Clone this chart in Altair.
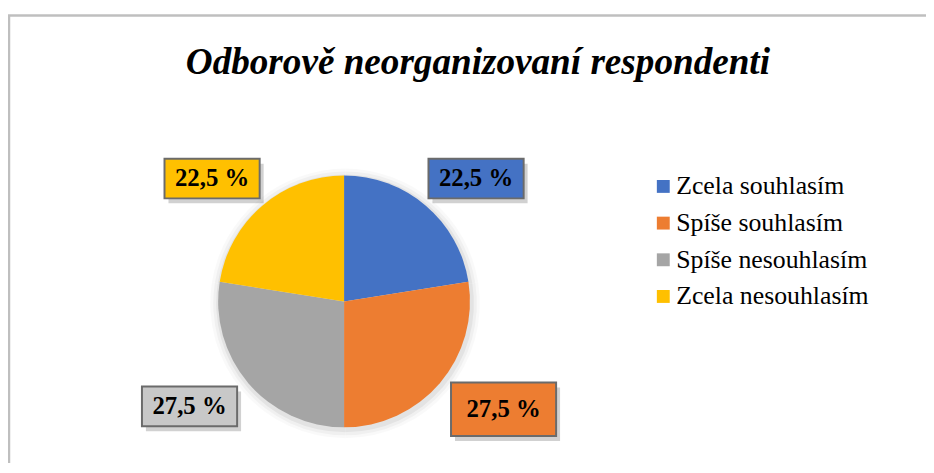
import altair as alt
import pandas as pd

title_text = "Odborově neorganizovaní respondenti"
categories = ["Zcela souhlasím", "Spíše souhlasím", "Spíše nesouhlasím", "Zcela nesouhlasím"]
values = [22.5, 27.5, 27.5, 22.5]
labels = ["22,5 %", "27,5 %", "27,5 %", "22,5 %"]
slice_colors = ["#4472C4", "#ED7D31", "#A5A5A5", "#FFC000"]
box_colors = ["#4472C4", "#ED7D31", "#C8C8C8", "#FFC000"]

df = pd.DataFrame({
    "cat": categories,
    "val": values,
    "lab": labels,
    "idx": list(range(len(categories))),
    "box": box_colors,
})

CX, CY, R = 339, 294, 127
RX, RY = 205, 163
FONT = "Liberation Serif"

base = alt.Chart(df)

color = alt.Color("cat:N", scale=alt.Scale(domain=categories, range=slice_colors),
                  sort=categories,
                  legend=alt.Legend(orient="none", legendX=648, legendY=165, title=None,
                                    symbolType="square", symbolSize=169, symbolStrokeWidth=0,
                                    labelFont=FONT, labelFontSize=26, labelColor="#000000",
                                    labelOffset=0, rowPadding=11, labelLimit=400))

shadows = []
for dr, op in [(9, 0.025), (6, 0.035), (3, 0.05)]:
    shadows.append(
        base.mark_arc(radius=R + dr, color="#000000", opacity=op).encode(
            theta=alt.Theta("val:Q", stack=True), order=alt.Order("idx:Q"),
            x=alt.value(CX + 1), y=alt.value(CY + 2))
    )

pie = base.mark_arc(radius=R).encode(
    theta=alt.Theta("val:Q", stack=True),
    color=color,
    order=alt.Order("idx:Q"),
    x=alt.value(CX), y=alt.value(CY),
)

lab_base = base.transform_joinaggregate(total="sum(val)").transform_window(
    cum="sum(val)", sort=[alt.SortField("idx")], frame=[None, 0]
).transform_calculate(
    mid="(datum.cum - datum.val/2)/datum.total*2*PI",
    lx0=f"{CX} + {RX}*sin(datum.mid)",
    lx="datum.idx == 1 ? datum.lx0 + 5 : datum.lx0",
    ly=f"{CY} - {RY}*cos(datum.mid)",
    hw="datum.idx == 1 ? 53 : 48",
    hh="datum.idx == 1 ? 27 : 20",
    bcy="datum.idx == 1 ? datum.ly + 3 : datum.ly",
    x1="datum.lx - datum.hw", x2="datum.lx + datum.hw",
    y1="datum.bcy - datum.hh", y2="datum.bcy + datum.hh",
    sx1="datum.x1 + 4", sx2="datum.x2 + 4", sy1="datum.y1 + 5", sy2="datum.y2 + 5",
)

box_shadow = lab_base.mark_rect(color="#000000", opacity=0.18).encode(
    x=alt.X("sx1:Q", scale=None), x2="sx2:Q",
    y=alt.Y("sy1:Q", scale=None), y2="sy2:Q",
)
boxes = lab_base.mark_rect(stroke="#6B6B6B", strokeWidth=2).encode(
    x=alt.X("x1:Q", scale=None), x2="x2:Q",
    y=alt.Y("y1:Q", scale=None), y2="y2:Q",
    fill=alt.Fill("box:N", scale=None),
)
texts = lab_base.mark_text(font=FONT, fontSize=25, fontWeight="bold", color="#000000",
                           baseline="middle", align="center").encode(
    x=alt.X("lx:Q", scale=None), y=alt.Y("bcy:Q", scale=None), text="lab:N",
)

title = alt.Chart(pd.DataFrame({"t": [title_text]})).mark_text(
    font=FONT, fontSize=37.5, fontWeight="bold", fontStyle="italic", color="#000000",
    baseline="middle", align="center").encode(
    x=alt.value(474), y=alt.value(54), text="t:N")

frame_df = pd.DataFrame({"f": [0]})
top_line = alt.Chart(frame_df).mark_rule(color="#BFBFBF", strokeWidth=2.5).encode(
    x=alt.value(0), x2=alt.value(926), y=alt.value(5.5))
left_line = alt.Chart(frame_df).mark_rule(color="#BFBFBF", strokeWidth=2.5).encode(
    x=alt.value(1), y=alt.value(5), y2=alt.value(460))

chart = alt.layer(top_line, left_line, title, *shadows, pie, box_shadow, boxes, texts).properties(
    width=926, height=455, padding=0, autosize=alt.AutoSizeParams(type="none"),
    background="#FFFFFF",
).configure_view(stroke=None)

chart.save("out.html", embed_options={"renderer": "svg", "actions": False})
